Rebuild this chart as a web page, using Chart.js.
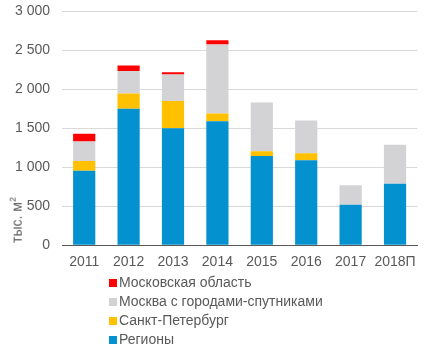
<!DOCTYPE html>
<html lang="ru">
<head>
<meta charset="utf-8">
<script src="https://cdn.jsdelivr.net/npm/chart.js@4"></script>
<style>
  body { margin: 0; background: #fff; font-family: "Liberation Sans", Arial, sans-serif; }
  #wrap { position: relative; width: 425px; height: 349px; overflow: hidden; }
  #box { position: absolute; left: 0; top: -9px; width: 425px; height: 291px; }
  #ytitle { position: absolute; left: 16px; top: 220px; transform: translate(-50%, -50%) rotate(-90deg);
            font-size: 14px; color: #595959; white-space: nowrap; }
  #legend { position: absolute; left: 109px; top: 273px; font-size: 14px; color: #595959; }
  #legend div { height: 19px; line-height: 19px; display: flex; align-items: center; }
  #legend span { display: inline-block; width: 8px; height: 8px; margin-right: 2px; }
</style>
</head>
<body>
<div id="wrap">
  <div id="box"><canvas id="chart"></canvas></div>
  <div id="ytitle">тыс. м<sup style="font-size:9px">2</sup></div>
  <div id="legend"></div>
</div>
<script>
// годы и объёмы ввода, тыс. м²
const years = ['2011', '2012', '2013', '2014', '2015', '2016', '2017', '2018П'];
const regions = [955, 1750, 1500, 1590, 1145, 1090, 520, 790];
const spb = [125, 195, 350, 100, 60, 90, 0, 0];
const moscow = [250, 290, 340, 885, 625, 420, 250, 500];
const mosOblast = [100, 70, 30, 55, 0, 0, 0, 0];
const yTicks = [0, 500, 1000, 1500, 2000, 2500, 3000];

const series = [
    { label: 'Регионы', data: regions, color: '#0391CF' },
    { label: 'Санкт-Петербург', data: spb, color: '#FFC000' },
    { label: 'Москва с городами-спутниками', data: moscow, color: '#D3D3D5' },
    { label: 'Московская область', data: mosOblast, color: '#FF0000' }
];

const fmt = v => v >= 1000 ? Math.floor(v / 1000) + ' ' + String(v % 1000).padStart(3, '0') : String(v);

new Chart(document.getElementById('chart'), {
    type: 'bar',
    data: {
        labels: years,
        datasets: series.map(s => ({
            label: s.label,
            data: s.data,
            backgroundColor: s.color,
            borderWidth: 0,
            barPercentage: 0.5,
            categoryPercentage: 1
        }))
    },
    options: {
        responsive: true,
        maintainAspectRatio: false,
        animation: false,
        layout: { padding: { top: 0, right: 6, bottom: 2, left: 0 } },
        plugins: { legend: { display: false }, tooltip: { enabled: false } },
        scales: {
            x: {
                stacked: true,
                grid: { display: false, drawTicks: false },
                border: { color: '#595959', width: 1 },
                ticks: { color: '#595959', font: { size: 14, family: 'Liberation Sans' }, padding: 9, maxRotation: 0 }
            },
            y: {
                stacked: true,
                min: 0,
                max: 3000,
                afterBuildTicks: scale => { scale.ticks = yTicks.map(v => ({ value: v })); },
                afterFit: scale => { scale.width = 62; },
                grid: { color: '#D9D9D9', drawTicks: false },
                border: { display: false },
                ticks: { color: '#595959', font: { size: 14, family: 'Liberation Sans' }, padding: 12, callback: v => fmt(v) }
            }
        }
    }
});

// легенда в обратном порядке, столбиком
const legend = document.getElementById('legend');
series.slice().reverse().forEach(s => {
    const row = document.createElement('div');
    row.innerHTML = '<span style="background:' + s.color + '"></span>' + s.label;
    legend.appendChild(row);
});
</script>
</body>
</html>
